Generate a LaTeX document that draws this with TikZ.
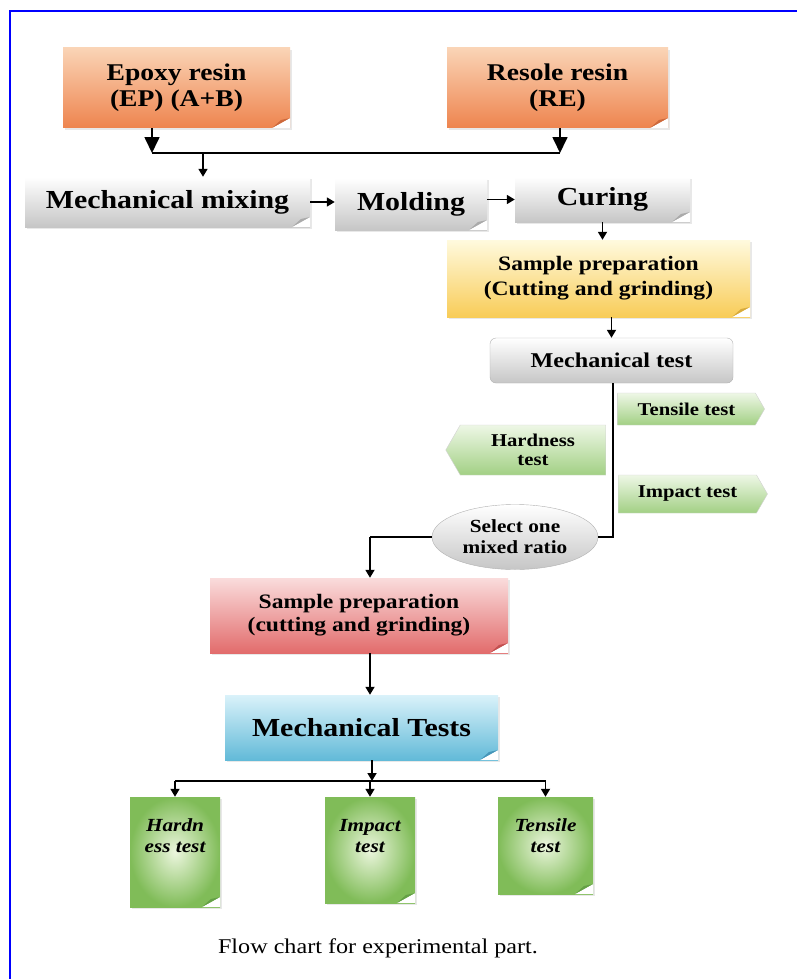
\documentclass[tikz,border=0pt]{standalone}
\usepackage{fontspec}
\setmainfont{Liberation Serif}[FakeStretch=1.15]
\usetikzlibrary{shapes.geometric,shapes.symbols,arrows.meta,positioning,shadows}
\definecolor{orTop}{RGB}{250,212,182}
\definecolor{orBot}{RGB}{238,132,78}
\definecolor{orFold}{RGB}{205,105,60}
\definecolor{gyTop}{RGB}{255,255,255}
\definecolor{gyBot}{RGB}{198,198,198}
\definecolor{gyFold}{RGB}{170,170,170}
\definecolor{yeTop}{RGB}{255,250,222}
\definecolor{yeBot}{RGB}{248,204,88}
\definecolor{yeFold}{RGB}{215,170,60}
\definecolor{rdTop}{RGB}{250,220,220}
\definecolor{rdBot}{RGB}{226,108,108}
\definecolor{rdFold}{RGB}{195,80,80}
\definecolor{blTop}{RGB}{218,242,250}
\definecolor{blBot}{RGB}{98,186,216}
\definecolor{blFold}{RGB}{70,150,185}
\definecolor{gnIn}{RGB}{236,246,222}
\definecolor{gnOut}{RGB}{128,188,88}
\definecolor{gnFold}{RGB}{100,160,70}
\definecolor{sgTop}{RGB}{238,247,230}
\definecolor{sgBot}{RGB}{162,208,132}

\tikzset{
  paper/.style={align=center, inner sep=2pt,
    drop shadow={opacity=0.18, shadow xshift=2pt, shadow yshift=-2pt},
    path picture={
      \fill[white] ([xshift=-18pt]path picture bounding box.south east) -- (path picture bounding box.south east) -- ([yshift=10pt]path picture bounding box.south east) -- cycle;
      \fill[#1] ([xshift=-18pt]path picture bounding box.south east) -- ([xshift=-9pt,yshift=8pt]path picture bounding box.south east) -- ([yshift=10pt]path picture bounding box.south east) -- cycle;
    }},
  orbox/.style={paper=orFold, top color=orTop, bottom color=orBot, font=\fontsize{24}{26}\selectfont\bfseries},
  grbox/.style={paper=gyFold, top color=gyTop, bottom color=gyBot, font=\fontsize{26}{30}\selectfont\bfseries},
  yebox/.style={paper=yeFold, top color=yeTop, bottom color=yeBot, font=\fontsize{20.5}{25}\selectfont\bfseries},
  rdbox/.style={paper=rdFold, top color=rdTop, bottom color=rdBot, font=\fontsize{20.5}{23}\selectfont\bfseries},
  blbox/.style={paper=blFold, top color=blTop, bottom color=blBot, font=\fontsize{26}{30}\selectfont\bfseries},
  gnbox/.style={paper=gnFold, inner color=gnIn, outer color=gnOut},
  gtxt/.style={align=center, inner sep=0pt, font=\fontsize{18.5}{21}\selectfont\bfseries\itshape},
  mbox/.style={draw=gray!60, rounded corners=6pt, top color=gyTop, bottom color=gyBot, font=\fontsize{21}{24}\selectfont\bfseries},
  sig/.style={signal, signal pointer angle=120, draw=gray!35, top color=sgTop, bottom color=sgBot, align=center, inner sep=1pt, font=\fontsize{18}{19}\selectfont\bfseries},
  selbox/.style={ellipse, draw=gray!60, top color=gyTop, bottom color=gyBot, align=center, inner sep=0pt, font=\fontsize{18.5}{21}\selectfont\bfseries},
  link/.style={line width=1.7pt},
  arr/.style={line width=1.7pt, -{Triangle[width=9pt,length=8pt]}},
  bigarr/.style={line width=1.7pt, -{Triangle[width=15pt,length=16pt]}}
}

\begin{document}
\begin{tikzpicture}[x=1pt, y=-1pt]
\useasboundingbox (0,0) rectangle (797,979);
\fill[white] (0,0) rectangle (797,979);
\draw[blue, line width=2.5pt] (10,11) rectangle (812,995);

% raw materials
\node[orbox, minimum width=227pt, minimum height=80pt] (epoxy) at (176.5,88) {Epoxy resin\\(EP) (A+B)};
\node[orbox, minimum width=221pt, minimum height=80pt] (resole) at (557.5,88) {Resole resin\\(RE)};
\coordinate (jl) at (152,153);
\coordinate (jr) at (560,153);
\coordinate (jm) at (203,153);
\draw[bigarr] (epoxy.south -| jl) -- (jl);
\draw[bigarr] (resole.south -| jr) -- (jr);
\draw[link] (jl) -- (jr);

% processing
\node[grbox, minimum width=285pt, minimum height=50pt] (mix) at (167.5,202) {Mechanical mixing};
\node[grbox, minimum width=152pt, minimum height=52pt] (mold) at (411,204) {Molding};
\node[grbox, minimum width=175pt, minimum height=45pt] (cure) at (602.5,199.5) {Curing};
\draw[arr] (jm) -- (jm |- mix.north);
\draw[arr] (mix.east) -- (mix.east -| mold.west);
\draw[arr] (mold.east |- cure) -- (cure.west);

% first sample preparation and tests
\node[yebox, minimum width=303pt, minimum height=77pt] (prep1) at (598.5,278.5) {Sample preparation\\(Cutting and grinding)};
\draw[arr] (cure.south) -- (cure.south |- prep1.north);
\node[mbox, minimum width=243pt, minimum height=45pt] (mtest) at (611.5,360.5) {Mechanical test};
\draw[arr] (prep1.south -| mtest) -- (mtest.north);

\node[sig, signal to=east, minimum width=147pt, minimum height=32pt] (tens) at (686.5,409) {Tensile test};
\node[sig, signal to=west, minimum width=160pt, minimum height=50pt] (hard) at (533,450) {Hardness\\test};
\node[sig, signal to=east, minimum width=149pt, minimum height=38pt] (imp) at (687.5,494) {Impact test};

\node[selbox, minimum width=166pt, minimum height=65pt] (sel) at (515,537) {Select one\\mixed ratio};
\coordinate (tr) at (613,537);
\draw[link] (mtest.south -| tr) -- (tr) -- (sel.east);

% second sample preparation
\coordinate (bl) at (370,537);
\node[rdbox, minimum width=298pt, minimum height=75pt] (prep2) at (359,615.5) {Sample preparation\\(cutting and grinding)};
\draw[link] (sel.west) -- (bl);
\draw[arr] (bl) -- (bl |- prep2.north);
\node[blbox, minimum width=273pt, minimum height=65pt] (mtests) at (361.5,727.5) {Mechanical Tests};
\draw[arr] (prep2.south -| bl) -- (mtests.north -| bl);

% final tests
\node[gnbox, minimum width=90pt, minimum height=110pt] (hardb) at (175,852) {};
\node[gnbox, minimum width=90pt, minimum height=106pt] (impb) at (370,850) {};
\node[gnbox, minimum width=95pt, minimum height=97pt] (tensb) at (545.5,845.5) {};
\node[gtxt, below=22pt of hardb.north] (hardt) {Hardn\\ess test};
\node[gtxt, below=22pt of impb.north] (impt) {Impact\\test};
\node[gtxt, below=22pt of tensb.north] (tenst) {Tensile\\test};
\coordinate (sp) at (372,781);
\draw[arr] (mtests.south -| sp) -- (sp);
\draw[link] (sp -| hardb) -- (sp -| tensb);
\foreach \b in {hardb,impb,tensb}
  \draw[arr] (sp -| \b.north) -- (\b.north);

\node[font=\fontsize{21}{24}\selectfont] (cap) at (378,948) {Flow chart for experimental part.};

\end{tikzpicture}
\end{document}
